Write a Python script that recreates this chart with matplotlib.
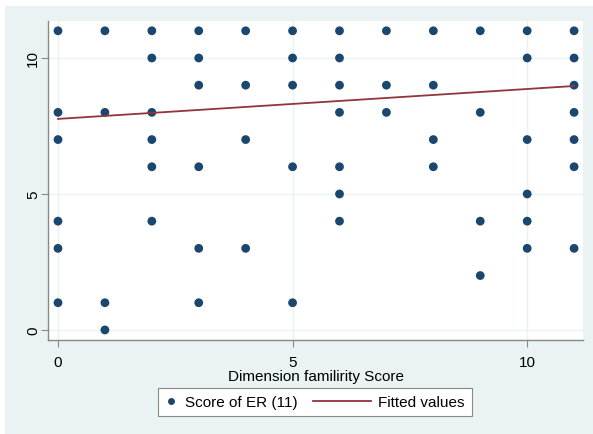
import numpy as np
import matplotlib.pyplot as plt
from matplotlib.patches import Rectangle
from matplotlib.legend_handler import HandlerLine2D

plt.rcParams['font.family'] = ['Liberation Sans', 'DejaVu Sans']

# Scatter data (Dimension familiarity score vs Score of ER)
fam_score = [0, 0, 0, 0, 0, 0,
             1, 1, 1, 1,
             2, 2, 2, 2, 2, 2,
             3, 3, 3, 3, 3, 3,
             4, 4, 4, 4,
             5, 5, 5, 5, 5,
             6, 6, 6, 6, 6, 6, 6,
             7, 7, 7,
             8, 8, 8, 8,
             9, 9, 9, 9,
             10, 10, 10, 10, 10, 10,
             11, 11, 11, 11, 11, 11, 11]
er_score = [11, 8, 7, 4, 3, 1,
            11, 8, 1, 0,
            11, 10, 8, 7, 6, 4,
            11, 10, 9, 6, 3, 1,
            11, 9, 7, 3,
            11, 10, 9, 6, 1,
            11, 10, 9, 8, 6, 5, 4,
            11, 9, 8,
            11, 9, 7, 6,
            11, 8, 4, 2,
            11, 10, 7, 5, 4, 3,
            11, 10, 9, 8, 7, 6, 3]

# Fitted line
fit_intercept = 7.76
fit_slope = 0.11
fit_x = [0, 11]

navy = '#1a476f'
maroon = '#90353b'
bg = '#eaf2f3'


class LongLine(HandlerLine2D):
    # stretch the legend line to the left, like Stata's key
    def get_xdata(self, legend, xdescent, ydescent, width, height, fontsize):
        x = np.array([-xdescent - 3.0 * fontsize, -xdescent + width])
        return x, np.array([-xdescent + width / 2])


fig = plt.figure(figsize=(5.93, 4.35), dpi=100)
fig.patches.append(Rectangle((5 / 593, 0), 1, 1 - 7 / 435, transform=fig.transFigure,
                             facecolor=bg, edgecolor='none', zorder=-1))

ax = fig.add_axes([48 / 593, 1 - 341 / 435, 535 / 593, 319 / 435])
ax.set_facecolor('white')

ax.scatter(fam_score, er_score, s=40, color=navy, edgecolors='none', zorder=3)
fit_y = [fit_intercept + fit_slope * x for x in fit_x]
line, = ax.plot(fit_x, fit_y, color=maroon, lw=1.3, zorder=4)

ax.set_xlim(-0.213, 11.19)
ax.set_ylim(-0.37, 11.36)
ax.set_xticks([0, 5, 10])
ax.set_yticks([0, 5, 10])
ax.grid(True, color=bg, lw=1)
ax.set_axisbelow(True)

for s in ['top', 'right']:
    ax.spines[s].set_visible(False)
for s in ['left', 'bottom']:
    ax.spines[s].set_color('#888888')
    ax.spines[s].set_linewidth(1)

ax.tick_params(axis='both', length=5, color='#888888', labelsize=11)
ax.tick_params(axis='y', pad=0.5)
ax.tick_params(axis='x', pad=6)
plt.setp(ax.get_yticklabels(), rotation=90, va='center')
ax.set_xlabel('Dimension familirity Score', fontsize=11, labelpad=0)

dot = plt.Line2D([], [], ls='none', marker='o', ms=5, color=navy, mec='none')
leg = fig.legend([dot, line], ['Score of ER (11)', 'Fitted values'],
                 loc='center', bbox_to_anchor=(315 / 593, 1 - 403 / 435), ncol=2,
                 fontsize=11, frameon=True, fancybox=False, handlelength=0.8,
                 handletextpad=0.5, columnspacing=4.0, borderpad=0.45,
                 handler_map={line: LongLine()})
leg.get_frame().set_edgecolor('#888888')
leg.get_frame().set_linewidth(0.8)
leg.get_frame().set_alpha(1)

fig.savefig('out.png', dpi=100, facecolor='white')
